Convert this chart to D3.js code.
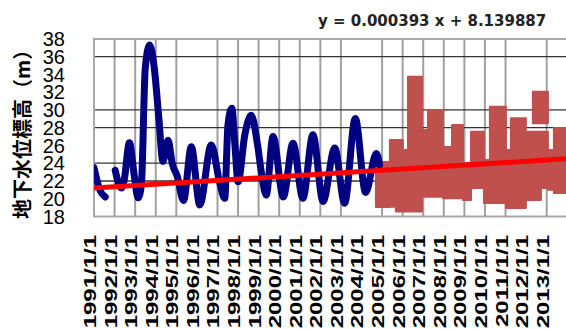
<!DOCTYPE html>
<html><head><meta charset="utf-8">
<script src="https://cdn.jsdelivr.net/npm/d3@7"></script>
<style>body{margin:0;background:#fff;} svg{display:block;}</style>
</head><body>
<svg id="c" width="566" height="329"></svg>
<script>
// ---------- data ----------
const yTitle = "地下水位標高（m）";
const equationText = "y = 0.000393 x + 8.139887";
const trendSlope = 0.000393, trendIntercept = 8.139887;
const yTicks = [18, 20, 22, 24, 26, 28, 30, 32, 34, 36, 38];
const hGridValues = [22, 24, 28, 30, 36];
const labelYears = d3.range(1991, 2014);
const xLabels = labelYears.map(yr => yr + "/1/1");
const vGridYears = [1991,1992,1993,1994,1995,1997,1998,1999,2000,2001,2002,2003,2005,2006,2007,2008,2009,2010,2011,2013];

// blue series (decimal year, value); null = missing
const blueYears = [1991.00,1991.30,1991.55,1991.80,1992.03,1992.33,1992.46,1992.72,1992.95,1993.14,1993.30,1993.49,1993.70,1993.93,1994.15,1994.35,1994.60,1994.80,1995.05,1995.35,1995.73,1996.14,1996.70,1997.10,1997.35,1997.51,1997.70,1997.85,1998.00,1998.33,1998.64,1998.95,1999.15,1999.37,1999.70,2000.20,2000.67,2001.15,2001.64,2002.13,2002.70,2003.18,2003.70,2004.20,2004.72,2004.88];
const blueValues = [23.5,20.9,20.2,null,23.2,21.2,22.0,26.3,22.7,20.1,21.5,34.7,37.3,34.7,29.1,24.2,26.6,24.0,22.5,19.8,25.85,19.3,26.05,21.9,20.05,28.3,30.2,26.0,21.9,27.2,29.4,26.05,22.7,20.4,27.0,20.2,26.25,20.05,27.2,19.7,25.7,19.5,29.05,20.7,25.1,23.8];

// red series band (step start in decimal year, upper and lower envelope)
const redYears = [2004.70,2005.38,2005.67,2006.01,2006.26,2006.94,2007.23,2007.96,2008.40,2008.93,2009.32,2009.95,2010.24,2011.02,2011.26,2011.99,2012.72,2013.06,2013.35,2014.00];
const redHigh  = [24.14,26.62,26.62,25.49,33.75,27.75,30.00,25.83,28.31,24.03,27.55,24.37,30.37,25.49,29.06,27.55,27.55,25.49,27.97,27.97];
const redLow   = [19.07,19.10,18.55,18.55,18.55,20.23,20.23,20.05,20.05,19.86,21.20,19.53,19.53,18.96,18.96,19.86,21.20,21.00,20.65,20.65];
const redFloatYears = [2012.33, 2013.06];
const redFloatHigh = [32.06, 32.06];
const redFloatLow = [28.5, 28.5];

// ---------- helpers ----------
function yearToDate(t) {
  const yr = Math.floor(t);
  const a = new Date(yr, 0, 1), b = new Date(yr + 1, 0, 1);
  return new Date(+a + (t - yr) * (b - a));
}
const excelEpoch = new Date(1899, 11, 30);
const serial = d => (d - excelEpoch) / 86400000;

const svg = d3.select("#c");
const x = d3.scaleTime().domain([new Date(1991,0,1), new Date(2013,0,1)]).range([94, 546.7]);
const y = d3.scaleLinear().domain([18, 38]).range([216.5, 38.9]);
const xEnd = x(new Date(2014, 0, 1));
const left = x(new Date(1991, 0, 1));

svg.append("defs").append("clipPath").attr("id", "plot")
  .append("rect").attr("x", left).attr("y", y(38)).attr("width", xEnd - left).attr("height", y(18) - y(38));

// grid
svg.append("g").selectAll("line").data(vGridYears).join("line")
  .attr("x1", d => x(new Date(d,0,1))).attr("x2", d => x(new Date(d,0,1)))
  .attr("y1", y(38)).attr("y2", y(18))
  .attr("stroke", "#a0a0a0").attr("stroke-width", 2);
svg.append("g").selectAll("line").data(hGridValues).join("line")
  .attr("x1", left).attr("x2", xEnd)
  .attr("y1", d => y(d)).attr("y2", d => y(d))
  .attr("stroke", "#333").attr("stroke-width", 1.3);
// frame
svg.append("path")
  .attr("d", `M${xEnd},${y(38)}H${left}V${y(18)}H${xEnd}`)
  .attr("fill", "none").attr("stroke", "#a8a8a8").attr("stroke-width", 2);

const g = svg.append("g").attr("clip-path", "url(#plot)");

// red band
const redData = redYears.map((t, i) => ({ d: yearToDate(t), hi: redHigh[i], lo: redLow[i] }));
const redArea = d3.area().curve(d3.curveStepAfter)
  .x(d => x(d.d)).y0(d => y(d.lo)).y1(d => y(d.hi));
g.append("path").datum(redData).attr("d", redArea)
  .attr("fill", "#c0504d").attr("stroke", "#c0504d").attr("stroke-width", 2).attr("stroke-linejoin", "round");
const redFloat = redFloatYears.map((t, i) => ({ d: yearToDate(t), hi: redFloatHigh[i], lo: redFloatLow[i] }));
g.append("path").datum(redFloat).attr("d", redArea)
  .attr("fill", "#c0504d").attr("stroke", "#c0504d").attr("stroke-width", 2).attr("stroke-linejoin", "round");

// blue line
const blueData = blueYears.map((t, i) => ({ d: yearToDate(t), v: blueValues[i] }));
const blueLine = d3.line().defined(d => d.v != null).curve(d3.curveMonotoneX)
  .x(d => x(d.d)).y(d => y(d.v));
g.append("path").datum(blueData).attr("d", blueLine)
  .attr("fill", "none").attr("stroke", "#000080").attr("stroke-width", 7)
  .attr("stroke-linecap", "round").attr("stroke-linejoin", "round");

// trend line
const tDates = [new Date(1991, 0, 1), new Date(2014, 0, 1)];
g.append("path").datum(tDates)
  .attr("d", d3.line().x(d => x(d)).y(d => y(trendSlope * serial(d) + trendIntercept)))
  .attr("stroke", "#ff0000").attr("stroke-width", 5).attr("fill", "none");

// y tick labels
svg.append("g").selectAll("text").data(yTicks).join("text")
  .attr("x", 65).attr("y", d => y(d)).attr("dy", "0.36em")
  .attr("text-anchor", "end")
  .attr("font-family", "'Liberation Sans', Arial, sans-serif").attr("font-size", 20)
  .attr("fill", "#000").text(d => d);

// x labels
svg.append("g").selectAll("text").data(labelYears).join("text")
  .attr("transform", (d) => `translate(${x(new Date(d,0,1)) + 2},235) rotate(-90) scale(1.5,1)`)
  .attr("text-anchor", "end")
  .attr("font-family", "'Liberation Sans', Arial, sans-serif").attr("font-size", 16).attr("font-weight", "bold")
  .attr("fill", "#000").text((d, i) => xLabels[i]);

// y title
svg.append("text")
  .attr("transform", "translate(21.7,219) rotate(-90)")
  .attr("dominant-baseline", "central")
  .attr("text-anchor", "start")
  .attr("font-family", "'Noto Sans CJK JP', sans-serif").attr("font-size", 20).attr("font-weight", "bold")
  .attr("fill", "#000").text(yTitle);

// equation
svg.append("text").attr("x", 318).attr("y", 26)
  .attr("font-family", "'DejaVu Sans', sans-serif").attr("font-size", 15).attr("font-weight", "bold")
  .attr("fill", "#222").text(equationText);
</script>
</body></html>
